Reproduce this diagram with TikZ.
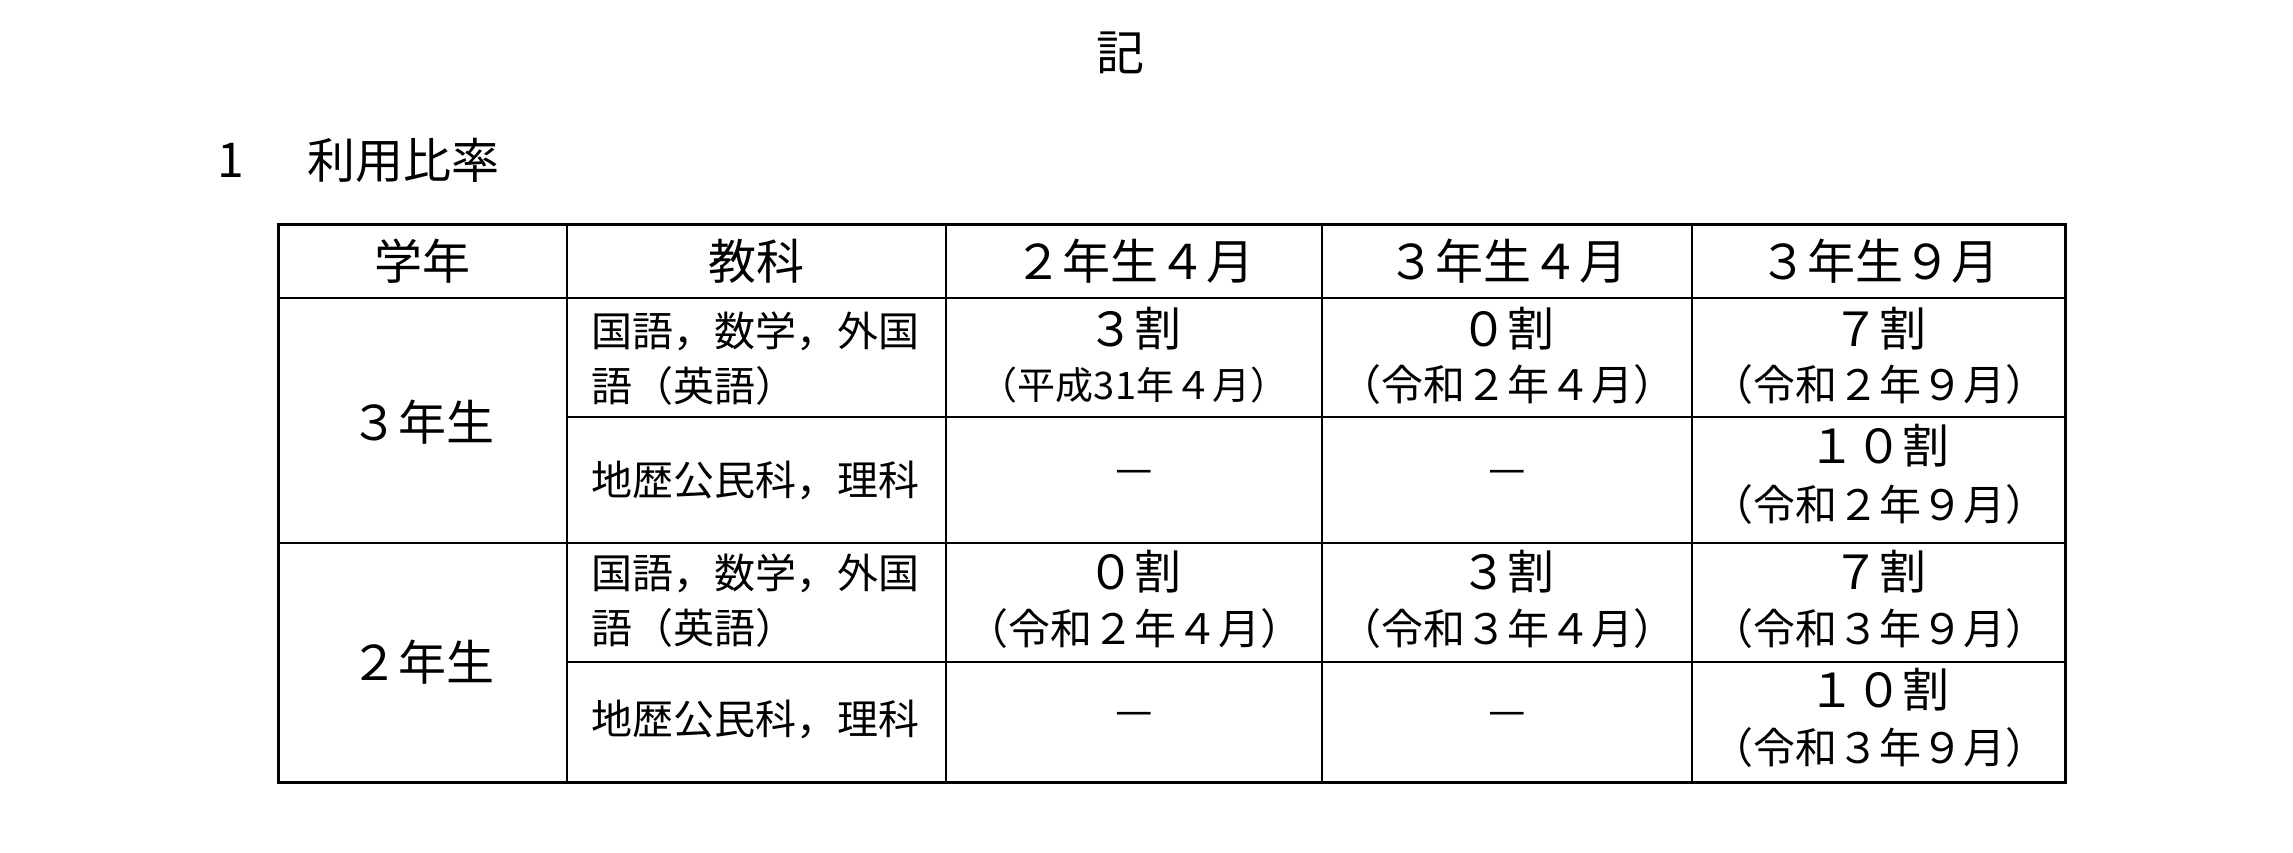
\documentclass[tikz,border=0pt]{standalone}
\usepackage{fontspec}
\setmainfont{Noto Sans CJK JP}

\begin{document}
\begin{tikzpicture}[x=10pt,y=10pt,
        big/.style={font=\fontsize{48}{48}\selectfont},
        val/.style={font=\fontsize{47}{47}\selectfont},
        subj/.style={font=\fontsize{41}{41}\selectfont, anchor=west},
        date/.style={font=\fontsize{42}{42}\selectfont},
        olddate/.style={font=\fontsize{38}{38}\selectfont},
        nilmark/.style={font=\fontsize{42}{42}\selectfont},
        frame/.style={line width=3pt},
        grid/.style={line width=2.4pt}]
        \tikzstyle{every node}+=[inner sep=0pt]
        \useasboundingbox (0,0) rectangle (229.3,-85.3);
        \draw (112.0,-5.3) node [big] (kiword) {記};
        \draw (23.1,-16.0) node [big] (secnum) {1};
        \draw (40.3,-16.0) node [big] (sectitle) {利用比率};
        \draw [frame] (27.8,-22.4) rectangle (206.5,-78.2);
        \draw [grid] (27.8,-29.8) -- (206.5,-29.8);
        \draw [grid] (56.7,-41.7) -- (206.5,-41.7);
        \draw [grid] (27.8,-54.3) -- (206.5,-54.3);
        \draw [grid] (56.7,-66.2) -- (206.5,-66.2);
        \draw [grid] (56.7,-22.4) -- (56.7,-78.2);
        \draw [grid] (94.6,-22.4) -- (94.6,-78.2);
        \draw [grid] (132.2,-22.4) -- (132.2,-78.2);
        \draw [grid] (169.2,-22.4) -- (169.2,-78.2);
        \draw (42.2,-26.1) node [big] (hgrade) {学年};
        \draw (75.6,-26.1) node [big] (hsubj) {教科};
        \draw (113.4,-26.1) node [big] (hapr2) {２年生４月};
        \draw (150.7,-26.1) node [big] (hapr3) {３年生４月};
        \draw (187.9,-26.1) node [big] (hsep3) {３年生９月};
        \draw (42.2,-42.2) node [big] (g3) {３年生};
        \draw (42.2,-66.2) node [big] (g2) {２年生};
        \draw (59.1,-33.1) node [subj] (s3a1) {国語，数学，外国};
        \draw (59.1,-38.6) node [subj] (s3a2) {語（英語）};
        \draw (59.1,-48.0) node [subj] (s3b) {地歴公民科，理科};
        \draw (59.1,-57.3) node [subj] (s2a1) {国語，数学，外国};
        \draw (59.1,-62.8) node [subj] (s2a2) {語（英語）};
        \draw (59.1,-71.9) node [subj] (s2b) {地歴公民科，理科};
        \draw (113.4,-32.9) node [val] (v3a2) {３割};
        \draw (113.4,-38.5) node [olddate] (d3a2) {（平成31年４月）};
        \draw (113.4,-47.7) node [nilmark] (v3b2) {—};
        \draw (113.4,-57.2) node [val] (v2a2) {０割};
        \draw (113.4,-62.9) node [date] (d2a2) {（令和２年４月）};
        \draw (113.4,-71.9) node [nilmark] (v2b2) {—};
        \draw (150.7,-32.9) node [val] (v3a3) {０割};
        \draw (150.7,-38.5) node [date] (d3a3) {（令和２年４月）};
        \draw (150.7,-47.7) node [nilmark] (v3b3) {—};
        \draw (150.7,-57.2) node [val] (v2a3) {３割};
        \draw (150.7,-62.9) node [date] (d2a3) {（令和３年４月）};
        \draw (150.7,-71.9) node [nilmark] (v2b3) {—};
        \draw (187.9,-32.9) node [val] (v3a9) {７割};
        \draw (187.9,-38.5) node [date] (d3a9) {（令和２年９月）};
        \draw (187.9,-44.6) node [val] (v3b9) {１０割};
        \draw (187.9,-50.5) node [date] (d3b9) {（令和２年９月）};
        \draw (187.9,-57.2) node [val] (v2a9) {７割};
        \draw (187.9,-62.9) node [date] (d2a9) {（令和３年９月）};
        \draw (187.9,-69.0) node [val] (v2b9) {１０割};
        \draw (187.9,-74.8) node [date] (d2b9) {（令和３年９月）};
\end{tikzpicture}
\end{document}
